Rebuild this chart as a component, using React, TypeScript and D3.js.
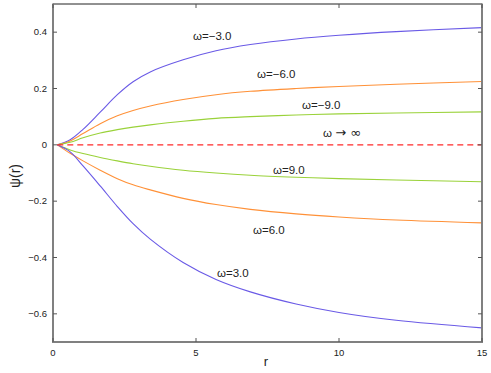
import React from "react";
import * as d3 from "d3";

const rGrid = [0.15, 0.6, 1.05, 1.65, 2.25, 2.8, 3.4, 4.55, 5.7, 6.9, 8.5, 10, 12, 15];

const psiMinus3 = [0, 0.018, 0.055, 0.116, 0.178, 0.224, 0.259, 0.302, 0.334, 0.356, 0.376, 0.389, 0.402, 0.416];
const psiMinus6 = [0, 0.014, 0.04, 0.075, 0.103, 0.122, 0.138, 0.161, 0.178, 0.19, 0.2, 0.207, 0.215, 0.225];
const psiMinus9 = [0, 0.009, 0.025, 0.042, 0.054, 0.063, 0.071, 0.084, 0.094, 0.1, 0.106, 0.11, 0.113, 0.117];
const psiPlus9 = [0, -0.018, -0.031, -0.045, -0.057, -0.067, -0.076, -0.09, -0.1, -0.108, -0.115, -0.12, -0.125, -0.131];
const psiPlus6 = [0, -0.03, -0.057, -0.09, -0.12, -0.142, -0.16, -0.19, -0.212, -0.229, -0.245, -0.256, -0.267, -0.277];
const psiPlus3 = [0, -0.025, -0.075, -0.146, -0.219, -0.28, -0.335, -0.418, -0.478, -0.522, -0.565, -0.595, -0.623, -0.65];

const xTicks = [0, 5, 10, 15];
const yTicks = [-0.6, -0.4, -0.2, 0, 0.2, 0.4];

const series = [
  { name: "ω=−3.0", values: psiMinus3, color: "#6a5ae6", lx: 193, ly: 40 },
  { name: "ω=−6.0", values: psiMinus6, color: "#ff9138", lx: 257, ly: 78 },
  { name: "ω=−9.0", values: psiMinus9, color: "#9ad23a", lx: 302, ly: 109 },
  { name: "ω=9.0", values: psiPlus9, color: "#9ad23a", lx: 273, ly: 174 },
  { name: "ω=6.0", values: psiPlus6, color: "#ff9138", lx: 253, ly: 234 },
  { name: "ω=3.0", values: psiPlus3, color: "#6a5ae6", lx: 217, ly: 277 },
];

const width = 491;
const height = 373;
const margin = { left: 53, right: 9, top: 4, bottom: 31 };

export default function App() {
  const x = d3.scaleLinear().domain([0, 15]).range([margin.left, width - margin.right]);
  const y = d3.scaleLinear().domain([-0.7, 0.5]).range([height - margin.bottom, margin.top]);

  const line = d3
    .line<number>()
    .x((_, i) => x(rGrid[i]))
    .y(d => y(d))
    .curve(d3.curveCatmullRom.alpha(0.5));

  const x0 = x(0);
  const x1 = x(15);
  const yTop = y(0.5);
  const yBot = y(-0.7);
  const font = "'Liberation Sans', Arial, Helvetica, sans-serif";

  return (
    <svg
      width={width}
      height={height}
      style={{ position: "absolute", left: 0, top: 0, display: "block", background: "#fff" }}
      fontFamily={font}
    >
      {/* curves */}
      {series.map(s => (
        <path key={s.name} d={line(s.values) || ""} fill="none" stroke={s.color} strokeWidth={1.1} />
      ))}
      <line x1={x(0.15)} x2={x1} y1={y(0)} y2={y(0)} stroke="#ff2a2a" strokeWidth={1.3} strokeDasharray="6,4" />

      {/* frame */}
      <line x1={x0} x2={x1} y1={yTop} y2={yTop} stroke="#222" strokeWidth={1} />
      <line x1={x0} x2={x0} y1={yTop - 0.5} y2={yBot + 1} stroke="#808080" strokeWidth={2} />
      <line x1={x0 - 1} x2={x1 + 1} y1={yBot} y2={yBot} stroke="#808080" strokeWidth={2} />
      <line x1={x1} x2={x1} y1={yTop - 0.5} y2={yBot + 1} stroke="#808080" strokeWidth={2} />

      {/* ticks */}
      {xTicks.map(t => (
        <g key={"x" + t}>
          <line x1={x(t)} x2={x(t)} y1={yBot} y2={yBot - 4} stroke="#555" />
          <line x1={x(t)} x2={x(t)} y1={yTop} y2={yTop + 4} stroke="#555" />
          <text x={x(t)} y={yBot + 14} fontSize={9.5} textAnchor="middle" fill="#222">
            {t}
          </text>
        </g>
      ))}
      {yTicks.map(t => (
        <g key={"y" + t}>
          <line x1={x0} x2={x0 + 4} y1={y(t)} y2={y(t)} stroke="#555" />
          <line x1={x1} x2={x1 - 4} y1={y(t)} y2={y(t)} stroke="#555" />
          <text x={x0 - 6} y={y(t) + 3.3} fontSize={9.5} textAnchor="end" fill="#222">
            {t === 0 ? "0" : d3.format(".1f")(t).replace("-", "−")}
          </text>
        </g>
      ))}

      {/* labels */}
      {series.map(s => (
        <text key={"l" + s.name} x={s.lx} y={s.ly} fontSize={11.5} fill="#222">
          {s.name}
        </text>
      ))}
      <text x={323} y={137} fontSize={11.5} fill="#222">
        ω <tspan fontFamily="'DejaVu Sans'" fontSize={13}>→ ∞</tspan>
      </text>

      <text x={266} y={366} fontSize={13} textAnchor="middle" fill="#222">
        r
      </text>
      <text transform="translate(20,176) rotate(-90)" fontSize={14} textAnchor="middle" fill="#222">
        ψ(r)
      </text>
    </svg>
  );
}
